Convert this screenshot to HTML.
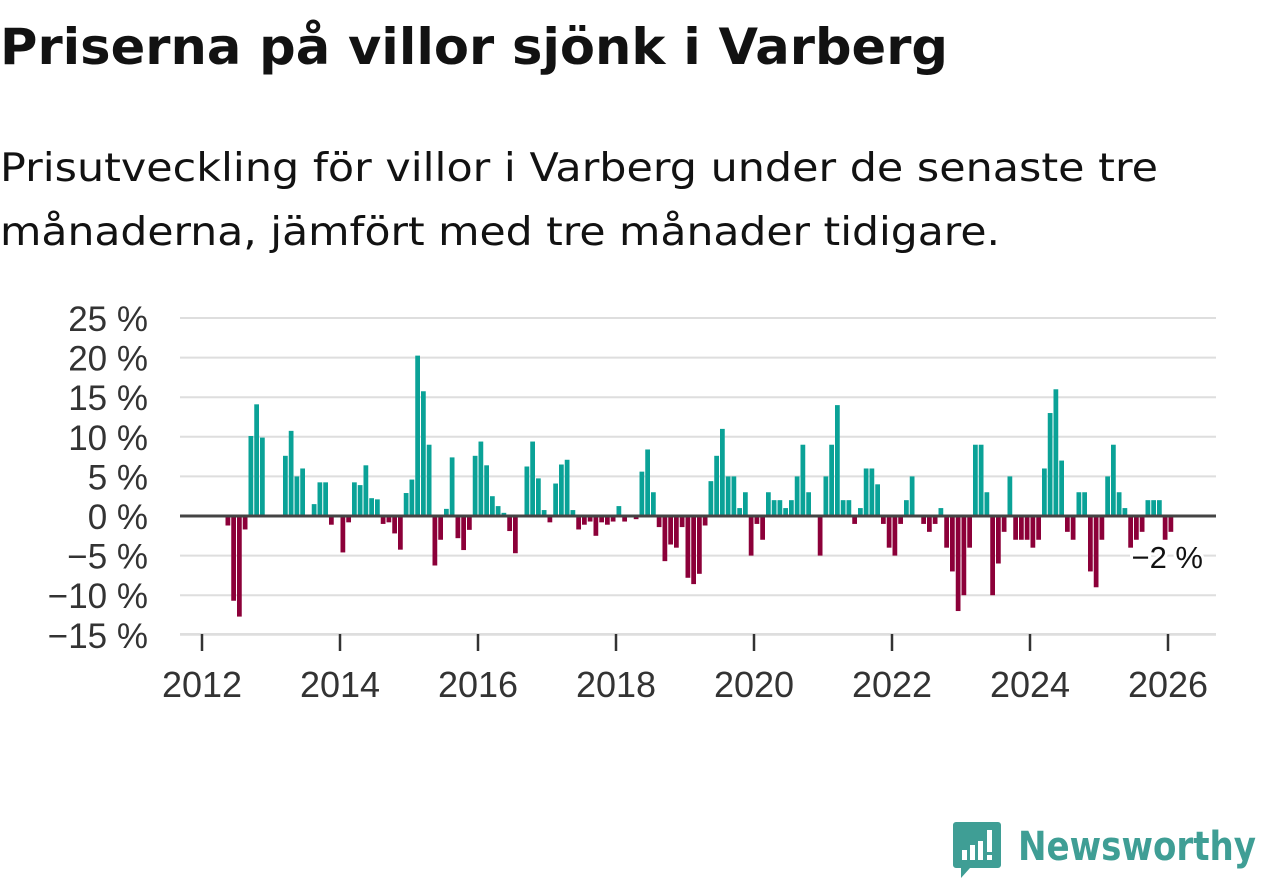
<!DOCTYPE html>
<html><head><meta charset="utf-8">
<style>
html,body{margin:0;padding:0;background:#fff;width:1262px;height:879px;overflow:hidden}
svg{display:block}
text{font-family:"DejaVu Sans","Liberation Sans",sans-serif}
.tick{font-family:"Liberation Sans","DejaVu Sans",sans-serif}
</style></head>
<body>
<svg id="chart" width="1262" height="879" viewBox="0 0 1262 879">
  <text x="0" y="64" font-size="50" font-weight="bold" fill="#121212" textLength="948" lengthAdjust="spacingAndGlyphs">Priserna på villor sjönk i Varberg</text>
  <text x="0" y="181" font-size="39" fill="#121212" textLength="1158" lengthAdjust="spacingAndGlyphs">Prisutveckling för villor i Varberg under de senaste tre</text>
  <text x="0" y="245" font-size="39" fill="#121212" textLength="1000" lengthAdjust="spacingAndGlyphs">månaderna, jämfört med tre månader tidigare.</text>
  <g id="grid"></g>
  <g id="yaxis"></g>
  <g id="xaxis"></g>
  <g id="bars"></g>
  <line id="zeroline" stroke="#444" stroke-width="3"></line>
  <g>
    <path d="M956 822 h42 a3 3 0 0 1 3 3 v40 a3 3 0 0 1 -3 3 h-28 l-9 10 v-10 h-5 a3 3 0 0 1 -3 -3 v-40 a3 3 0 0 1 3 -3z" fill="#3f9e95"/>
    <rect x="962" y="850" width="5" height="10" fill="#fff"/>
    <rect x="970" y="845" width="5" height="15" fill="#fff"/>
    <rect x="978" y="841" width="5" height="19" fill="#fff"/>
    <rect x="987" y="830" width="5" height="22" fill="#fff"/>
    <rect x="987" y="855" width="5" height="5" fill="#fff"/>
    <text x="1018" y="860" font-size="40" font-weight="bold" fill="#3f9e95" textLength="238" lengthAdjust="spacingAndGlyphs">Newsworthy</text>
  </g>
</svg>
<script>
const startMonth = 4; // May 2012, months since Jan 2012
const values = [
-1.2,-10.7,-12.7,-1.7,10.1,14.1,9.9,0,0,0,7.6,10.75,5,6,0,1.5,4.25,4.25,-1.1,0,
-4.6,-0.8,4.25,3.9,6.4,2.25,2.1,-1,-0.8,-2.2,-4.25,2.9,4.6,20.25,15.75,9,-6.25,-3,0.9,7.4,
-2.8,-4.3,-1.75,7.6,9.4,6.4,2.5,1.25,0.4,-1.9,-4.7,0,6.25,9.4,4.75,0.75,-0.8,4.1,6.5,7.1,
0.75,-1.7,-1.1,-0.7,-2.5,-0.8,-1.1,-0.7,1.25,-0.7,0,-0.4,5.6,8.4,3,-1.4,-5.7,-3.6,-4,-1.4,
-7.8,-8.6,-7.3,-1.2,4.4,7.6,11,5,5,1,3,-5,-1,-3,3,2,2,1,2,5,
9,3,0,-5,5,9,14,2,2,-1,1,6,6,4,-1,-4,-5,-1,2,5,
0,-1,-2,-1,1,-4,-7,-12,-10,-4,9,9,3,-10,-6,-2,5,-3,-3,-3,
-4,-3,6,13,16,7,-2,-3,3,3,-7,-9,-3,5,9,3,1,-4,-3,-2,
2,2,2,-3,-2
];
const yTicks = [25,20,15,10,5,0,-5,-10,-15];
const yTickLabels = ["25 %","20 %","15 %","10 %","5 %","0 %","\u22125 %","\u221210 %","\u221215 %"];
const xYears = [2012,2014,2016,2018,2020,2022,2024,2026];
const lastLabel = "\u22122 %";

const NS="http://www.w3.org/2000/svg";
const plotL=180, plotR=1216;
const y0px=516, pxPerPct=7.92;
const x2012=202, pxPerYear=69;
const yScale=v=>y0px - v*pxPerPct;
const xMonth=m=>x2012 + m*pxPerYear/12;
function mk(tag,attrs,parent){const e=document.createElementNS(NS,tag);for(const k in attrs)e.setAttribute(k,attrs[k]);parent.appendChild(e);return e;}

const grid=document.getElementById('grid'), yax=document.getElementById('yaxis'), xax=document.getElementById('xaxis'), bars=document.getElementById('bars');
yTicks.forEach((t,i)=>{
  if(t!==0){
    const l=mk('line',{x1:plotL,x2:plotR,y1:yScale(t),y2:yScale(t),stroke:'#dedede','stroke-width':2},grid);
    
    
  }
  const tx=mk('text',{class:'tick',x:148,y:yScale(t)+13,'font-size':35,fill:'#333','text-anchor':'end'},yax);
  tx.textContent=yTickLabels[i];
  
  
});
const base=mk('line',{x1:plotL,x2:plotR,y1:634,y2:634,stroke:'#dedede','stroke-width':2},xax);


xYears.forEach(yr=>{
  const x=xMonth((yr-2012)*12);
  const tk=mk('line',{x1:x,x2:x,y1:634,y2:651,stroke:'#333','stroke-width':2.5},xax);
  
  
  const tx=mk('text',{class:'tick',x:x,y:697,'font-size':36,fill:'#333','text-anchor':'middle'},xax);
  tx.textContent=String(yr);
  
  
});
const bw=pxPerYear/12;
values.forEach((v,i)=>{
  const m=startMonth+i;
  if(v===0) return;
  const x=xMonth(m)+0.5;
  const y=v>0?yScale(v):y0px;
  const r=mk('rect',{x:x,y:y,width:bw-1,height:Math.abs(v)*pxPerPct,fill:v>0?'#0aa297':'#8c0039'},bars);
  
  
});
const z=document.getElementById('zeroline');
z.setAttribute('x1',plotL);z.setAttribute('x2',plotR);z.setAttribute('y1',y0px);z.setAttribute('y2',y0px);
const lbl=mk('text',{class:'tick',x:1203,y:568,'font-size':31,fill:'#121212','text-anchor':'end',stroke:'#fff','stroke-width':6,'paint-order':'stroke'},document.getElementById('chart'));
lbl.textContent=lastLabel;


</script>
</body></html>
